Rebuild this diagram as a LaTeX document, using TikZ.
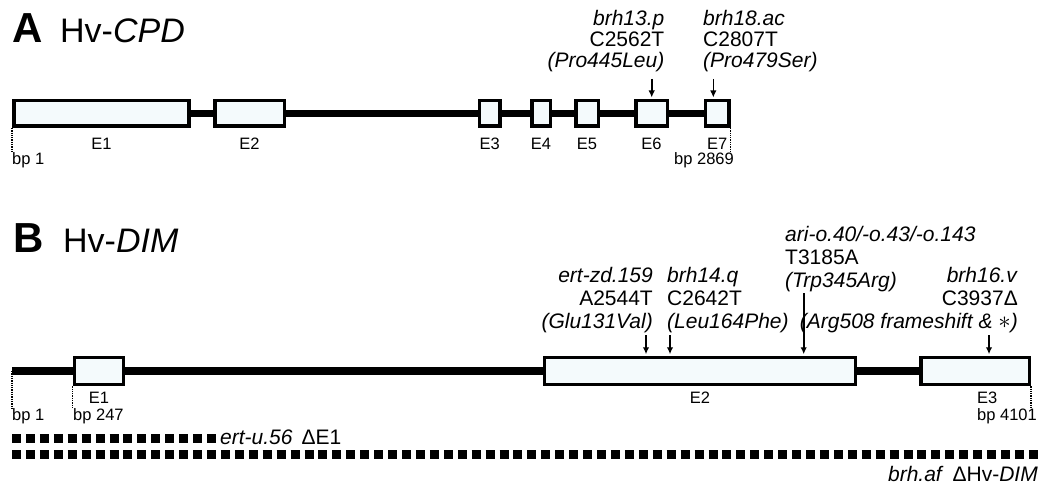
\documentclass[tikz,border=0pt]{standalone}
\usepackage{fontspec}
\setmainfont{Liberation Sans}
\usetikzlibrary{arrows.meta,positioning}

\definecolor{exonfill}{RGB}{244,250,252}

\begin{document}
\begin{tikzpicture}[
  x=1pt, y=-1pt,
  exon/.style={draw, fill=exonfill, line width=3.5pt, rectangle, inner sep=0pt},
  intron/.style={line width=7.5pt},
  exlab/.style={font=\fontsize{16.5}{18}\selectfont, inner sep=0pt},
  bplab/.style={font=\fontsize{16.5}{18}\selectfont, inner sep=0pt},
  bpmark/.style={densely dotted, line width=1.3pt},
  mutlab/.style={font=\fontsize{21}{21}\selectfont, inner sep=0pt},
  mutlabB/.style={font=\fontsize{21}{23}\selectfont, inner sep=0pt},
  mut/.style={-{Latex[length=7pt,width=6.5pt]}, line width=1.6pt, shorten >=1.5pt},
  panel/.style={font=\fontsize{42}{42}\selectfont\bfseries, inner sep=0pt, anchor=base west},
  gene/.style={font=\fontsize{34}{34}\selectfont, inner sep=0pt, anchor=base west},
  deletion/.style={line width=9pt, dash pattern=on 9pt off 4.93pt},
  dellab/.style={font=\fontsize{21}{22}\selectfont, inner sep=0pt}
]
\useasboundingbox (0,0) rectangle (1049,486);

% A: Hv-CPD
\node[panel] (pA) at (12,43) {A};
\node[gene] (gA) at (60,43) {Hv-\textit{CPD}};

\node[exon, minimum width=175.3pt, minimum height=25.5pt] (a1) at (101.4,113.5) {};
\node[exon, minimum width=69.5pt, minimum height=25.5pt] (a2) at (249.5,113.5) {};
\node[exon, minimum width=20.5pt, minimum height=25.5pt] (a3) at (489.7,113.5) {};
\node[exon, minimum width=18.5pt, minimum height=25.5pt] (a4) at (541,113.5) {};
\node[exon, minimum width=22.5pt, minimum height=25.5pt] (a5) at (587,113.5) {};
\node[exon, minimum width=31.5pt, minimum height=25.5pt] (a6) at (651.5,113.5) {};
\node[exon, minimum width=23.2pt, minimum height=25.5pt] (a7) at (717.3,113.5) {};
\draw[intron] (a1) -- (a2) -- (a3) -- (a4) -- (a5) -- (a6) -- (a7);

\node[exlab, below=10pt of a1] (a1l) {E1};
\node[exlab, below=10pt of a2] (a2l) {E2};
\node[exlab, below=10pt of a3] (a3l) {E3};
\node[exlab, below=10pt of a4] (a4l) {E4};
\node[exlab, below=10pt of a5] (a5l) {E5};
\node[exlab, below=10pt of a6] (a6l) {E6};
\node[exlab, below=10pt of a7] (a7l) {E7};

\node[bplab, anchor=base west] (bpa1) at (12,165) {bp 1};
\node[bplab, anchor=base east] (bpa2) at (734,165) {bp 2869};
\draw[bpmark] (a1.south west) -- (a1.south west |- bpa1.north);
\draw[bpmark] (a7.south east) -- (a7.south east |- bpa2.north);

\node[mutlab, align=right, anchor=south east] (m13p) at (664.5,72) {\textit{brh13.p}\\C2562T\\\textit{(Pro445Leu)}};
\node[mutlab, align=left, anchor=south west] (m18ac) at (703,72) {\textit{brh18.ac}\\C2807T\\\textit{(Pro479Ser)}};
\coordinate (t13p) at (651.7,79);
\coordinate (t18ac) at (713.3,79);
\draw[mut] (t13p) -- (t13p |- a6.north);
\draw[mut] (t18ac) -- (t18ac |- a7.north);

% B: Hv-DIM
\node[panel] (pB) at (13,253) {B};
\node[gene] (gB) at (63,253) {Hv-\textit{DIM}};

\coordinate (bstart) at (12,371);
\node[exon, minimum width=48.8pt, minimum height=27pt] (b1) at (98.85,371) {};
\node[exon, minimum width=311.1pt, minimum height=27pt] (b2) at (700,371) {};
\node[exon, minimum width=108.2pt, minimum height=27pt] (b3) at (975.15,371) {};
\draw[intron] (bstart) -- (b1) -- (b2) -- (b3);

\node[exlab, below=6pt of b1] (b1l) {E1};
\node[exlab, below=6pt of b2] (b2l) {E2};
\node[exlab, below=6pt of b3, xshift=12pt] (b3l) {E3};

\node[bplab, anchor=base west] (bpb1) at (12,420) {bp 1};
\node[bplab, anchor=base west] (bpb2) at (73,420) {bp 247};
\node[bplab, anchor=base east] (bpb3) at (1037,420) {bp 4101};
\draw[bpmark] (bstart) -- (bstart |- bpb1.north);
\draw[bpmark] (b1.south west) -- (b1.south west |- bpb2.north);
\draw[bpmark] (b3.south east) -- (b3.south east |- bpb3.north);

\node[mutlabB, align=right, anchor=south east] (mzd) at (653,333) {\textit{ert-zd.159}\\A2544T\\\textit{(Glu131Val)}};
\node[mutlabB, align=left, anchor=south west] (m14q) at (667,333) {\textit{brh14.q}\\C2642T\\\textit{(Leu164Phe)}};
\node[mutlabB, align=left, anchor=south west] (mari) at (785,292) {\textit{ari-o.40/-o.43/-o.143}\\T3185A\\\textit{(Trp345Arg)}};
\node[mutlabB, align=right, anchor=south east] (m16v) at (1018,333) {\textit{brh16.v}\\C3937Δ\\\textit{(Arg508 frameshift \& \smash{\fontsize{27}{27}\selectfont$\ast$})}};
\coordinate (tzd) at (646,335);
\coordinate (t14q) at (670,335);
\coordinate (tari) at (803.7,293);
\coordinate (t16v) at (989,335);
\draw[mut] (tzd) -- (tzd |- b2.north);
\draw[mut] (t14q) -- (t14q |- b2.north);
\draw[mut] (tari) -- (tari |- b2.north);
\draw[mut] (t16v) -- (t16v |- b3.north);

% deletions
\coordinate (d1s) at (12,438.5);
\coordinate (d1e) at (217,438.5);
\coordinate (d2s) at (12,454);
\coordinate (d2e) at (1038,454);
\draw[deletion] (d1s) -- (d1e);
\draw[deletion] (d2s) -- (d2e);
\node[dellab, anchor=base west] (ertu) at (220,444) {\textit{ert-u.56}\hspace{9pt}ΔE1};
\node[dellab, anchor=base east] (brhaf) at (1038,481) {\textit{brh.af}\hspace{9pt}ΔHv-\textit{DIM}};
\end{tikzpicture}
\end{document}
